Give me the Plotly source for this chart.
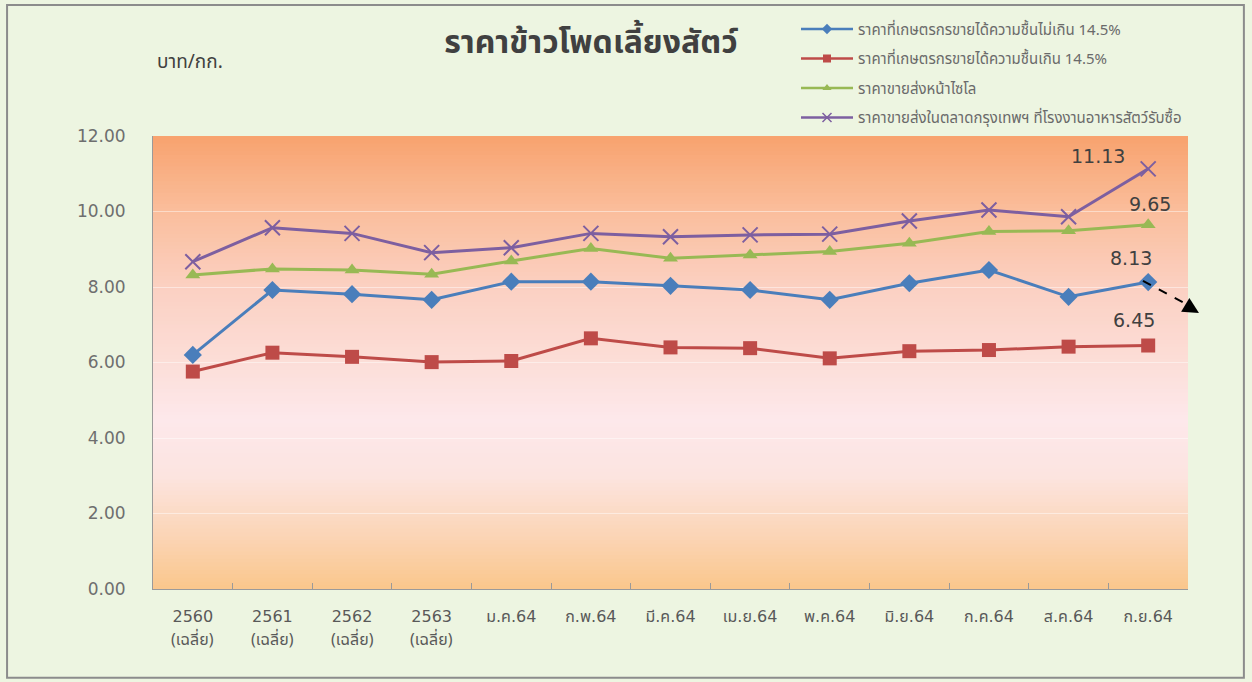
import plotly.graph_objects as go

categories = ["2560", "2561", "2562", "2563",
              "ม.ค.64", "ก.พ.64", "มี.ค.64", "เม.ย.64", "พ.ค.64", "มิ.ย.64",
              "ก.ค.64", "ส.ค.64", "ก.ย.64"]
average_note = ["(เฉลี่ย)", "(เฉลี่ย)", "(เฉลี่ย)", "(เฉลี่ย)", "", "", "", "", "", "", "", "", ""]

farm_le_145 = [6.20, 7.92, 7.81, 7.66, 8.14, 8.14, 8.03, 7.92, 7.66, 8.10, 8.45, 7.74, 8.13]
farm_gt_145 = [5.76, 6.26, 6.15, 6.01, 6.04, 6.64, 6.40, 6.38, 6.11, 6.30, 6.33, 6.42, 6.45]
silo_price = [8.32, 8.48, 8.45, 8.34, 8.69, 9.02, 8.76, 8.85, 8.94, 9.16, 9.47, 9.49, 9.65]
bkk_price = [8.67, 9.57, 9.42, 8.91, 9.04, 9.42, 9.33, 9.38, 9.40, 9.75, 10.04, 9.86, 11.13]

series_names = [
    "ราคาที่เกษตรกรขายได้ความชื้นไม่เกิน 14.5%",
    "ราคาที่เกษตรกรขายได้ความชื้นเกิน 14.5%",
    "ราคาขายส่งหน้าไซโล",
    "ราคาขายส่งในตลาดกรุงเทพฯ ที่โรงงานอาหารสัตว์รับซื้อ",
]
y_ticks = [0, 2, 4, 6, 8, 10, 12]
y_tick_text = ["0.00", "2.00", "4.00", "6.00", "8.00", "10.00", "12.00"]

FONT = "'DejaVu Sans', Tahoma, 'Noto Sans Thai', sans-serif"
THAI = "Tahoma, 'Noto Sans Thai', 'Leelawadee UI', sans-serif"
GRAY = "#595959"

fig = go.Figure()

styles = [
    dict(color="#4A7EBB", symbol="diamond", size=14, lsize=8),
    dict(color="#BE4B48", symbol="square", size=14, lsize=8),
    dict(color="#98B954", symbol="triangle-up", size=13, lsize=8),
    dict(color="#7D5FA0", symbol="x-thin", size=15, lsize=9),
]
data = [farm_le_145, farm_gt_145, silo_price, bkk_price]

for i, (name, vals, st) in enumerate(zip(series_names, data, styles)):
    marker = dict(symbol=st["symbol"], size=st["size"], color=st["color"])
    lmarker = dict(symbol=st["symbol"], size=st["lsize"], color=st["color"])
    if st["symbol"] == "x-thin":
        marker["line"] = dict(color=st["color"], width=2)
        lmarker["line"] = dict(color=st["color"], width=1.5)
    fig.add_trace(go.Scatter(
        x=categories, y=vals, name=name, mode="lines+markers",
        line=dict(color=st["color"], width=3),
        marker=marker, showlegend=False, cliponaxis=False,
    ))
    # legend entry (smaller symbol, as in the reference legend)
    fig.add_trace(go.Scatter(
        x=[None], y=[None], name=name, mode="lines+markers",
        line=dict(color=st["color"], width=2.5), marker=lmarker,
        legendgroup=f"g{i}", showlegend=True,
    ))

# gradient background bands in the plot area
stops = [
    (0.0, (250, 198, 140)),
    (1.5, (251, 214, 184)),
    (3.0, (252, 228, 224)),
    (4.5, (253, 232, 235)),
    (6.0, (252, 222, 216)),
    (8.0, (251, 208, 194)),
    (10.0, (250, 190, 156)),
    (12.0, (248, 162, 110)),
]


def color_at(v):
    for (a, ca), (b, cb) in zip(stops[:-1], stops[1:]):
        if a <= v <= b:
            t = (v - a) / (b - a)
            c = [round(ca[k] + (cb[k] - ca[k]) * t) for k in range(3)]
            return f"rgb({c[0]},{c[1]},{c[2]})"
    return "rgb(248,162,110)"


n_bands = 120
for k in range(n_bands):
    y0 = 12 * k / n_bands
    y1 = 12 * (k + 1) / n_bands
    fig.add_shape(type="rect", xref="x domain", yref="y", x0=0, x1=1, y0=y0, y1=y1 + 0.02,
                  fillcolor=color_at((y0 + y1) / 2), line=dict(width=0), layer="below")

# outer frame
fig.add_shape(type="rect", xref="paper", yref="paper", x0=-0.141, x1=1.054, y0=-0.196, y1=1.289,
              line=dict(color="#8C8C8C", width=2), fillcolor="rgba(0,0,0,0)", layer="below")

# second line of the yearly category labels (x given as category index)
for idx, note in enumerate(average_note):
    if note:
        fig.add_annotation(x=idx, xref="x", y=0, yref="y", text=note, showarrow=False,
                           yshift=-51, font=dict(family=THAI, size=16, color=GRAY))

# value labels for the last month
last_idx = len(categories) - 1
labels = [
    (bkk_price[-1], -50, 13),
    (silo_price[-1], 2, 21),
    (farm_le_145[-1], -17, 24),
    (farm_gt_145[-1], -14, 26),
]
for val, xs, ys in labels:
    fig.add_annotation(x=last_idx, y=val, text=f"{val:.2f}", showarrow=False,
                       xshift=xs, yshift=ys, font=dict(family=FONT, size=19, color="#404040"))

# dashed arrow
fig.add_shape(type="line", xref="paper", yref="paper", x0=0.9565, y0=0.680, x1=0.999, y1=0.628,
              line=dict(color="black", width=2, dash="dash"))
fig.add_annotation(xref="paper", yref="paper", x=1.0106, y=0.609, ax=-10, ay=-6, text="",
                   showarrow=True, arrowhead=2, arrowsize=1.6, arrowwidth=2, arrowcolor="black")

# unit label
fig.add_annotation(xref="paper", yref="paper", x=0.0015, y=(589 - 62) / 453, xanchor="left",
                   yanchor="middle", text="บาท/กก.", showarrow=False,
                   font=dict(family=THAI, size=19, color="#404040"))

fig.update_layout(
    width=1252, height=682,
    margin=dict(l=153, r=64, t=136, b=93),
    paper_bgcolor="#EDF5E1",
    plot_bgcolor="rgba(0,0,0,0)",
    title=dict(text="<b>ราคาข้าวโพดเลี้ยงสัตว์</b>", x=0.472, xanchor="center",
               y=1 - 42 / 682, yanchor="middle", font=dict(family=THAI, size=32, color="#404040")),
    font=dict(family=FONT, color=GRAY),
    showlegend=True,
    legend=dict(x=(796 - 153) / 1035, y=1.272, xanchor="left", yanchor="top",
                bgcolor="rgba(0,0,0,0)", font=dict(family=THAI, size=15, color="#6A6A6A"),
                tracegroupgap=7, itemwidth=52),
    xaxis=dict(type="category", showgrid=False, showline=True, linecolor="#9A9A9A", linewidth=1,
               ticks="inside", tickson="boundaries", ticklen=6, tickcolor="#9A9A9A",
               ticklabelstandoff=13,
               tickfont=dict(family=FONT, size=16, color=GRAY), range=[-0.5, 12.5]),
    yaxis=dict(range=[0, 12], tickvals=y_ticks, ticktext=y_tick_text, showgrid=True,
               gridcolor="rgba(255,255,255,0.45)", gridwidth=1, zeroline=False, showline=True,
               linecolor="#9A9A9A", ticks="", ticklabelstandoff=23,
               tickfont=dict(family=FONT, size=17, color="#6E6E6E")),
)

fig.write_html("out.html", config={"displayModeBar": False},
               post_script="document.body.style.margin='0px';")
